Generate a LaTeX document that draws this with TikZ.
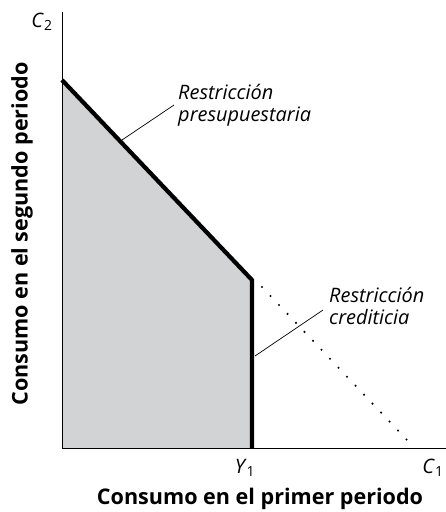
\documentclass[tikz,border=0pt]{standalone}
\usepackage{fontspec}
\setmainfont{Open Sans}
\usetikzlibrary{positioning,calc}
\tikzset{
  axisline/.style={line width=0.8pt},
  budget/.style={line width=3.6pt},
  leader/.style={line width=0.6pt},
  note/.style={font=\itshape\fontsize{17}{19}\selectfont, align=left, anchor=west, inner sep=0pt},
  axislabel/.style={font=\bfseries\fontsize{18.4}{20}\selectfont, inner sep=0pt}
}
\begin{document}
\begin{tikzpicture}[x=0.03cm,y=-0.03cm]
  \useasboundingbox (0,0) rectangle (445,512);
  % Key points
  \coordinate (O) at (62,448);
  \coordinate (ytop) at (62,12);
  \coordinate (xend) at (446,448);
  \coordinate (A) at (62,80);
  \coordinate (K) at (252,280);
  \coordinate (Ybase) at (252,448);
  \coordinate (D0) at (262,287);
  \coordinate (D) at (407,440);
  % Feasible region
  \fill[fill={rgb,255:red,209;green,211;blue,213}] (O) -- (A) -- (K) -- (Ybase) -- cycle;
  % Axes
  \draw[axisline] (ytop) -- (O) -- (xend);
  % Budget and credit constraint
  \draw[budget,line join=miter] (A) -- (K) -- (Ybase);
  \draw[line width=2pt,line cap=round,dash pattern=on 0pt off 10.55pt] (D0) -- (D);
  % Axis labels
  \node (c2) at (42,22) {\fontsize{17}{18}\selectfont\textit{C}\textsubscript{\upshape 2}};
  \node[anchor=east,inner sep=1pt] (c1) at (445,468) {\fontsize{17}{18}\selectfont\textit{C}\textsubscript{\upshape 1}};
  \node (y1) at (245,468) {\fontsize{17}{18}\selectfont\textit{Y}\textsubscript{\upshape 1}};
  \node[axislabel] (xlab) at (260,499) {Consumo en el primer periodo};
  \node[axislabel,rotate=90] (ylab) at (22,234) {Consumo en el segundo periodo};
  % Notes with leaders
  \node[note] (bnote) at (178,105) {Restricción\\presupuestaria};
  \coordinate (bpt) at (122,140);
  \draw[leader] (bpt) -- (174,105);
  \node[note] (cnote) at (329,306) {Restricción\\crediticia};
  \coordinate (cpt) at (255,356);
  \draw[leader] (cpt) -- (323,310);
\end{tikzpicture}
\end{document}
